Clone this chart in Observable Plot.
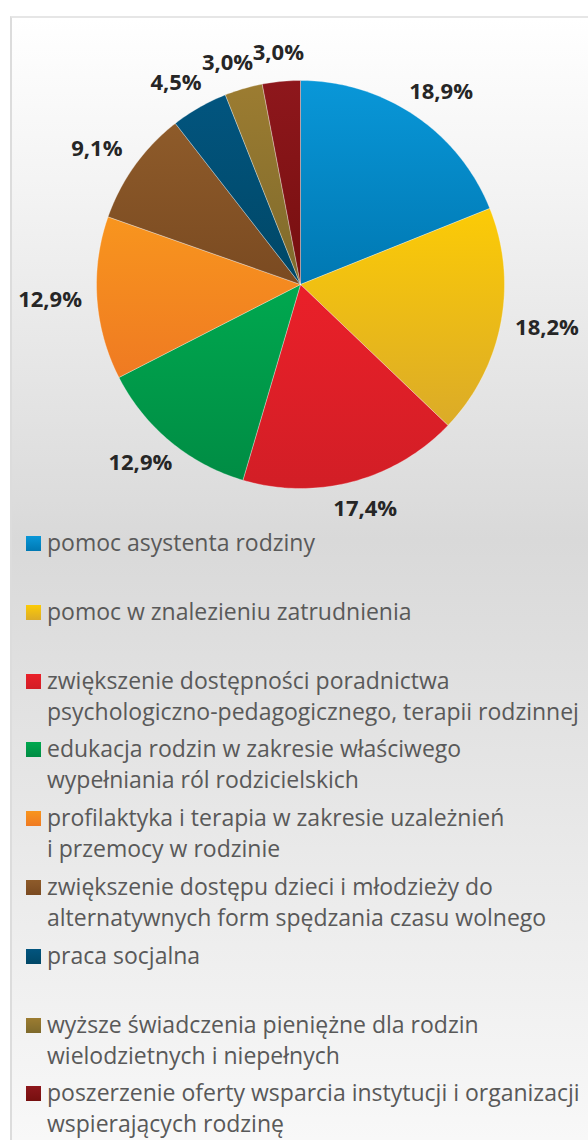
<!DOCTYPE html>
<html><head><meta charset="utf-8">
<script src="https://cdn.jsdelivr.net/npm/d3@7"></script>
<script src="https://cdn.jsdelivr.net/npm/@observablehq/plot@0.6"></script>
<style>
html,body{margin:0;padding:0;background:#fff;width:588px;height:1140px;overflow:hidden;}
#frame{position:absolute;left:10px;top:16px;width:620px;height:1160px;border-left:2px solid #dcdcdc;border-top:2px solid #e6e6e6;background:linear-gradient(to bottom,#ffffff 0%,#f3f3f3 15%,#d9d9d9 45%,#fafafa 100%);}
#chart{position:absolute;left:0;top:0;}
#legend{position:absolute;left:26px;top:527px;font-family:"Open Sans",sans-serif;font-size:23px;color:#595959;}
.item{display:flex;height:68.8px;}
.sw{width:15px;height:15px;margin-top:9px;margin-right:6px;flex:none;}
.txt{line-height:31px;white-space:nowrap;}
</style>
</head><body>
<div id="frame"></div>
<div id="chart"></div>
<div id="legend"></div>
<script>
const categories = [
  "pomoc asystenta rodziny",
  "pomoc w znalezieniu zatrudnienia",
  "zwiększenie dostępności poradnictwa psychologiczno-pedagogicznego, terapii rodzinnej",
  "edukacja rodzin w zakresie właściwego wypełniania ról rodzicielskich",
  "profilaktyka i terapia w zakresie uzależnień i przemocy w rodzinie",
  "zwiększenie dostępu dzieci i młodzieży do alternatywnych form spędzania czasu wolnego",
  "praca socjalna",
  "wyższe świadczenia pieniężne dla rodzin wielodzietnych i niepełnych",
  "poszerzenie oferty wsparcia instytucji i organizacji wspierających rodzinę"
];
const legendLines = [
  ["pomoc asystenta rodziny"],
  ["pomoc w znalezieniu zatrudnienia"],
  ["zwiększenie dostępności poradnictwa", "psychologiczno-pedagogicznego, terapii rodzinnej"],
  ["edukacja rodzin w zakresie właściwego", "wypełniania ról rodzicielskich"],
  ["profilaktyka i terapia w zakresie uzależnień", "i przemocy w rodzinie"],
  ["zwiększenie dostępu dzieci i młodzieży do", "alternatywnych form spędzania czasu wolnego"],
  ["praca socjalna"],
  ["wyższe świadczenia pieniężne dla rodzin", "wielodzietnych i niepełnych"],
  ["poszerzenie oferty wsparcia instytucji i organizacji", "wspierających rodzinę"]
];
const values = [18.9, 18.2, 17.4, 12.9, 12.9, 9.1, 4.5, 3.0, 3.0];
const colorsTop = ["#0997d8","#fccb06","#ea2029","#00a84f","#f8951e","#8e5b2a","#02557f","#9c7c31","#8e171c"];
const colorsBottom = ["#0078b2","#dbab28","#d21e26","#008c44","#ef7a22","#7a4a21","#004766","#7e6a2c","#760f0f"];

const W = 588, H = 525, R = 204, CX = 300, CY = 284;
const LR = 220, BW = 62, BH = 24; // label anchor radius and approx label box (px)
const total = d3.sum(values);
const pts = [], lbls = [];
let cum = 0;
values.forEach((v, i) => {
  const a0 = cum / total * 2 * Math.PI;
  cum += v;
  const a1 = cum / total * 2 * Math.PI;
  const cat = categories[i];
  pts.push({cat, x: 0, y: 0});
  const n = Math.max(4, Math.ceil((a1 - a0) / (Math.PI / 180)));
  for (let k = 0; k <= n; k++) {
    const a = a0 + (a1 - a0) * k / n;
    pts.push({cat, x: Math.sin(a), y: Math.cos(a)});
  }
  pts.push({cat, x: 0, y: 0});
  lbls.push({a: (a0 + a1) / 2, text: d3.format(".1f")(v).replace(".", ",") + "%"});
});
// label centre in px (relative to pie centre, y down): anchor point outside edge plus half box outward
function place(l) {
  const s = Math.sin(l.a), c = Math.cos(l.a);
  l.px = s * LR + s * BW / 2;
  l.py = -c * LR - c * BH / 2;
}
lbls.forEach(place);
// simple collision resolution between neighbouring labels: push apart along the circle
for (let it = 0; it < 400; it++) {
  let moved = false;
  for (let i = 0; i < lbls.length; i++) {
    const A = lbls[i], B = lbls[(i + 1) % lbls.length];
    const w = (A.text.length + B.text.length) / 2 * 11.5 + 4;
    if (Math.abs(A.px - B.px) < w && Math.abs(A.py - B.py) < BH) {
      A.a -= 0.004; B.a += 0.002; place(A); place(B); moved = true;
    }
  }
  if (!moved) break;
}
lbls.forEach(l => { l.x = l.px / R; l.y = -l.py / R; });

const plot = Plot.plot({
  width: W, height: H, margin: 0,
  style: {background: "transparent", fontFamily: "'Open Sans', sans-serif", overflow: "visible"},
  x: {domain: [-CX / R, (W - CX) / R], axis: null},
  y: {domain: [-(H - CY) / R, CY / R], axis: null},
  color: {domain: categories, range: categories.map((d, i) => `url(#g${i})`)},
  marks: [
    Plot.line(pts, {x: "x", y: "y", z: "cat", fill: "cat", stroke: "#ffffff", strokeWidth: 0.7, strokeOpacity: 0.45, curve: "linear"}),
    Plot.text(lbls, {x: "x", y: "y", text: "text", fontSize: 22, fontWeight: "bold", fill: "#262626"})
  ]
});
const svg = d3.select(plot);
const defs = svg.insert("defs", ":first-child");
colorsTop.forEach((c, i) => {
  const g = defs.append("linearGradient").attr("id", `g${i}`).attr("x1", 0).attr("y1", 0).attr("x2", 0).attr("y2", 1);
  g.append("stop").attr("offset", "0%").attr("stop-color", c);
  g.append("stop").attr("offset", "100%").attr("stop-color", colorsBottom[i]);
});
document.getElementById("chart").appendChild(plot);

const legend = d3.select("#legend");
legendLines.forEach((lines, i) => {
  const item = legend.append("div").attr("class", "item");
  item.append("div").attr("class", "sw").style("background", `linear-gradient(to bottom, ${colorsTop[i]}, ${colorsBottom[i]})`);
  const t = item.append("div").attr("class", "txt");
  lines.forEach((l, j) => { if (j) t.append("br"); t.append("span").text(l); });
});
</script>
</body></html>
